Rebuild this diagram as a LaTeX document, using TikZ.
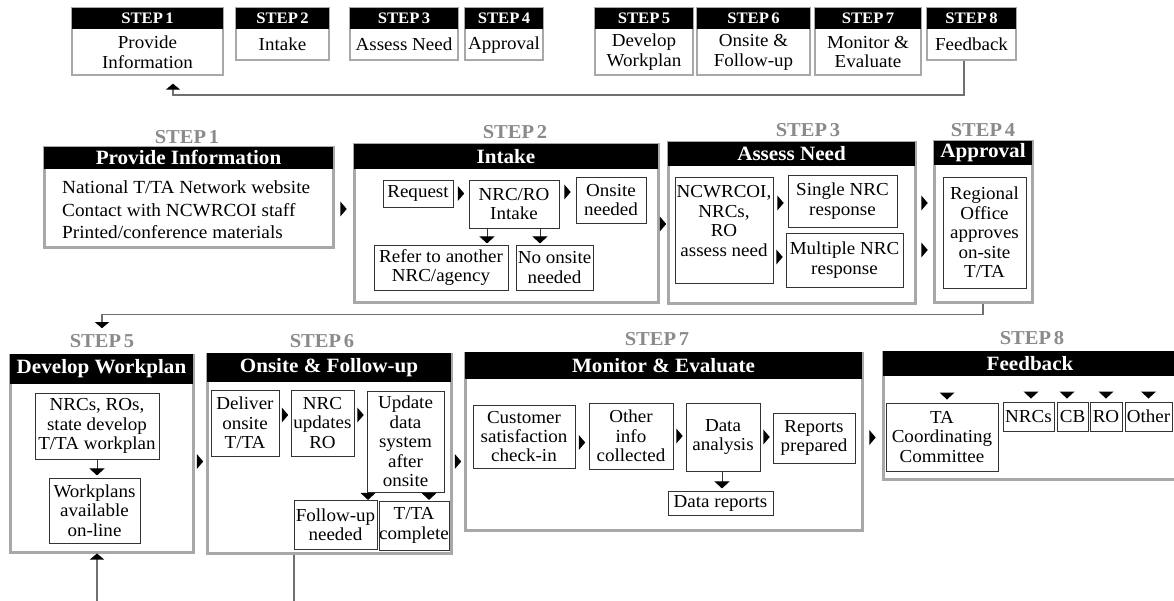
\documentclass[tikz,border=0pt]{standalone}
\usepackage{fontspec}
\setmainfont{Liberation Serif}[FakeStretch=1.04]
\usetikzlibrary{arrows.meta,calc}
\definecolor{bordergray}{HTML}{A8A8A8}
\definecolor{labelgray}{HTML}{8A8A8A}
\definecolor{linegray}{HTML}{707070}
\definecolor{ink}{HTML}{333333}
\newcommand\stp{\hspace{0.15em}}
\begin{document}
\begin{tikzpicture}[x=1pt,y=-1pt,
  bigbox/.style={draw=bordergray,line width=3pt,inner sep=0pt},
  hdr/.style={fill=black,text=white,inner sep=0pt,anchor=north,font=\bfseries\fontsize{20.3}{22}\selectfont},
  lbl/.style={text=labelgray,inner sep=0pt,font=\bfseries\fontsize{19.7}{22}\selectfont},
  ibox/.style={draw=ink,line width=0.9pt,inner sep=0pt,align=center,font=\fontsize{18.3}{19.4}\selectfont},
  tbox/.style={draw=bordergray,line width=1.3pt,inner sep=0pt},
  thdr/.style={fill=black,text=white,inner sep=0pt,anchor=north,font=\bfseries\fontsize{16}{17}\selectfont},
  ttxt/.style={inner sep=0pt,align=center,font=\fontsize{18.3}{19.5}\selectfont},
  conn/.style={draw=linegray,line width=1.1pt},
  uptip/.style={-{Triangle[width=14pt,length=6pt,color=black]}},
  stem/.style={draw=ink,line width=0.9pt,-{Triangle[width=15pt,length=7pt,color=black]}},
  rhead/.pic={\fill[black] (-3.2,-7.5) -- (3.2,0) -- (-3.2,7.5) -- cycle;},
  dhead/.pic={\fill[black] (-7.5,-3.5) -- (7.5,-3.5) -- (0,3.5) -- cycle;}
]
\useasboundingbox (0,0) rectangle (1174,601);

% ---------------- top row ----------------
\node[tbox,minimum width=151pt,minimum height=67pt] (T1) at (147.5,41.5) {};
\node[thdr,minimum width=151pt,minimum height=21pt] (T1h) at (T1.north) {STEP\stp1};
\node[ttxt] (T1t) at ($(T1h.south)!.5!(T1.south)$) {Provide\\Information};

\node[tbox,minimum width=93pt,minimum height=52pt] (T2) at (282.5,34) {};
\node[thdr,minimum width=93pt,minimum height=21pt] (T2h) at (T2.north) {STEP\stp2};
\node[ttxt] (T2t) at ($(T2h.south)!.5!(T2.south)$) {Intake};

\node[tbox,minimum width=108pt,minimum height=52pt] (T3) at (404,34) {};
\node[thdr,minimum width=108pt,minimum height=21pt] (T3h) at (T3.north) {STEP\stp3};
\node[ttxt] (T3t) at ($(T3h.south)!.5!(T3.south)$) {Assess Need};

\node[tbox,minimum width=78pt,minimum height=52pt] (T4) at (504,34) {};
\node[thdr,minimum width=78pt,minimum height=21pt] (T4h) at (T4.north) {STEP\stp4};
\node[ttxt] (T4t) at ($(T4h.south)!.5!(T4.south)$) {Approval};

\node[tbox,minimum width=98pt,minimum height=67pt] (T5) at (644,41.5) {};
\node[thdr,minimum width=98pt,minimum height=21pt] (T5h) at (T5.north) {STEP\stp5};
\node[ttxt] (T5t) at ($(T5h.south)!.5!(T5.south)$) {Develop\\Workplan};

\node[tbox,minimum width=113pt,minimum height=67pt] (T6) at (753.5,41.5) {};
\node[thdr,minimum width=113pt,minimum height=21pt] (T6h) at (T6.north) {STEP\stp6};
\node[ttxt] (T6t) at ($(T6h.south)!.5!(T6.south)$) {Onsite \&\\Follow-up};

\node[tbox,minimum width=106pt,minimum height=67pt] (T7) at (868,41.5) {};
\node[thdr,minimum width=106pt,minimum height=21pt] (T7h) at (T7.north) {STEP\stp7};
\node[ttxt] (T7t) at ($(T7h.south)!.5!(T7.south)$) {Monitor \&\\Evaluate};

\node[tbox,minimum width=89pt,minimum height=52pt] (T8) at (971.5,34) {};
\node[thdr,minimum width=89pt,minimum height=21pt] (T8h) at (T8.north) {STEP\stp8};
\node[ttxt] (T8t) at ($(T8h.south)!.5!(T8.south)$) {Feedback};

\coordinate (FR) at (964,95);
\coordinate (FL) at (173,95);
\draw[conn,uptip,shorten >=8pt] (T8.south -| FR) -- (FR) -- (FL) -- (T1.south -| FL);

% ---------------- step 1 ----------------
\node[lbl] (L1) at (187,137) {STEP\stp1};
\node[bigbox,minimum width=289pt,minimum height=100pt] (S1) at (188.5,198) {};
\node[hdr,minimum width=289pt,minimum height=22pt] (S1h) at (S1.north) {Provide Information};
\node[anchor=west,align=left,inner sep=0pt,font=\fontsize{18.5}{22.5}\selectfont] (S1t) at (62,210)
  {National T/TA Network website\\Contact with NCWRCOI staff\\Printed/conference materials};

% ---------------- step 2 ----------------
\node[lbl] (L2) at (515,132) {STEP\stp2};
\node[bigbox,minimum width=304pt,minimum height=158pt] (S2) at (506,224) {};
\node[hdr,minimum width=304pt,minimum height=25pt] (S2h) at (S2.north) {Intake};
\node[ibox,minimum width=70pt,minimum height=27pt] (Req) at (418,193.5) {Request};
\node[ibox,minimum width=90pt,minimum height=48pt] (NRC) at (514,204) {NRC/RO\\Intake};
\node[ibox,minimum width=70pt,minimum height=46pt] (Ons) at (611,200) {Onsite\\needed};
\node[ibox,minimum width=134pt,minimum height=45pt] (Ref) at (441,267.5) {Refer to another\\NRC/agency};
\node[ibox,minimum width=77pt,minimum height=45pt] (Non) at (554.5,267.5) {No onsite\\needed};

% ---------------- step 3 ----------------
\node[lbl] (L3) at (808,130) {STEP\stp3};
\node[bigbox,minimum width=247pt,minimum height=161pt] (S3) at (791.5,223.5) {};
\node[hdr,minimum width=247pt,minimum height=24pt] (S3h) at (S3.north) {Assess Need};
\node[ibox,minimum width=98pt,minimum height=106pt,text depth=18pt] (NCW) at (724,230) {NCWRCOI,\\NRCs,\\RO\\assess need};
\node[ibox,minimum width=109pt,minimum height=52pt] (Sgl) at (842.5,201) {Single NRC\\response};
\node[ibox,minimum width=117pt,minimum height=54pt] (Mul) at (844.5,260) {Multiple NRC\\response};

% ---------------- step 4 ----------------
\node[lbl] (L4) at (983,130) {STEP\stp4};
\node[bigbox,minimum width=98pt,minimum height=161pt] (S4) at (983,222.5) {};
\node[hdr,minimum width=98pt,minimum height=24pt] (S4h) at (S4.north) {Approval};
\node[ibox,minimum width=83pt,minimum height=111pt] (Reg) at (984.5,232.5) {Regional\\Office\\approves\\on-site\\T/TA};

% ---------------- step 5 ----------------
\node[lbl] (L5) at (102,341) {STEP\stp5};
\node[bigbox,minimum width=183pt,minimum height=197pt] (S5) at (101.5,453.5) {};
\node[hdr,minimum width=183pt,minimum height=30pt] (S5h) at (S5.north) {Develop Workplan};
\node[ibox,minimum width=124pt,minimum height=66pt] (W1) at (97,426) {NRCs, ROs,\\state develop\\T/TA workplan};
\node[ibox,minimum width=91pt,minimum height=65pt] (W2) at (94.5,510.5) {Workplans\\available\\on-line};

% ---------------- step 6 ----------------
\node[lbl] (L6) at (322,341) {STEP\stp6};
\node[bigbox,minimum width=244pt,minimum height=199pt] (S6) at (329,453.5) {};
\node[hdr,minimum width=244pt,minimum height=29pt] (S6h) at (S6.north) {Onsite \& Follow-up};
\node[ibox,minimum width=68pt,minimum height=66pt] (D1) at (245,423) {Deliver\\onsite\\T/TA};
\node[ibox,minimum width=63pt,minimum height=66pt] (D2) at (322.5,423) {NRC\\updates\\RO};
\node[ibox,minimum width=77pt,minimum height=101pt] (D3) at (405.5,441.5) {Update\\data\\system\\after\\onsite};
\node[ibox,minimum width=83pt,minimum height=49pt] (D4) at (335.5,524.5) {Follow-up\\needed};
\node[ibox,minimum width=70pt,minimum height=49pt] (D5) at (414,525.5) {T/TA\\complete};

% ---------------- step 7 ----------------
\node[lbl] (L7) at (657,339) {STEP\stp7};
\node[bigbox,minimum width=397pt,minimum height=177pt] (S7) at (663.5,441.5) {};
\node[hdr,minimum width=397pt,minimum height=27pt] (S7h) at (S7.north) {Monitor \& Evaluate};
\node[ibox,minimum width=102pt,minimum height=63pt] (C1) at (524,436.5) {Customer\\satisfaction\\check-in};
\node[ibox,minimum width=84pt,minimum height=66pt] (C2) at (631,436) {Other\\info\\collected};
\node[ibox,minimum width=74pt,minimum height=68pt] (C3) at (723,437) {Data\\analysis};
\node[ibox,minimum width=82pt,minimum height=50pt] (C4) at (814,438) {Reports\\prepared};
\node[ibox,minimum width=105pt,minimum height=24pt] (C5) at (720.5,503) {Data reports};

% ---------------- step 8 ----------------
\node[lbl] (L8) at (1032,338) {STEP\stp8};
\node[bigbox,minimum width=294pt,minimum height=127pt] (S8) at (1030,415.5) {};
\node[hdr,minimum width=294pt,minimum height=25pt] (S8h) at (S8.north) {Feedback};
\node[ibox,minimum width=112pt,minimum height=68pt] (F1) at (942,437) {TA\\Coordinating\\Committee};
\node[ibox,minimum width=51pt,minimum height=29pt] (F2) at (1028.5,416.5) {NRCs};
\node[ibox,minimum width=31pt,minimum height=29pt] (F3) at (1072.5,416.5) {CB};
\node[ibox,minimum width=32pt,minimum height=29pt] (F4) at (1106,416.5) {RO};
\node[ibox,minimum width=47pt,minimum height=29pt] (F5) at (1148.5,416.5) {Other};

% ---------------- arrowheads between boxes ----------------
\pic at ($(S1.east)!.5!(S1.east -| S2.west)+(0,11)$) {rhead};
\pic at ($(Req.east)!.5!(Req.east -| NRC.west)$) {rhead};
\pic at ($(NRC.east)!.5!(NRC.east -| Ons.west)+(0,-12)$) {rhead};
\pic at ($(S2.east)!.5!(S2.east -| S3.west)$) {rhead};
\pic at ($(Sgl.west -| NCW.east)!.5!(Sgl.west)+(0,2)$) {rhead};
\pic at ($(Mul.west -| NCW.east)!.5!(Mul.west)+(0,-3)$) {rhead};
\pic at ($(Sgl.east -| S3.east)!.5!(Sgl.east -| S4.west)+(0,2)$) {rhead};
\pic at ($(Mul.east -| S3.east)!.5!(Mul.east -| S4.west)+(0,-10)$) {rhead};
\pic at ($(S5.east)!.5!(S5.east -| S6.west)+(0,8)$) {rhead};
\pic at ($(D1.east)!.5!(D1.east -| D2.west)+(0,-8)$) {rhead};
\pic at ($(D2.east)!.5!(D2.east -| D3.west)+(0,-8)$) {rhead};
\pic at ($(S6.east)!.5!(S6.east -| S7.west)+(0,8)$) {rhead};
\pic at ($(C1.east)!.5!(C1.east -| C2.west)+(0,6)$) {rhead};
\pic at ($(C2.east)!.5!(C2.east -| C3.west)$) {rhead};
\pic at ($(C3.east)!.5!(C3.east -| C4.west)$) {rhead};
\pic at ($(S7.east)!.5!(S7.east -| S8.west)+(0,-4)$) {rhead};

\pic at ($(D3.south)+(-37.5,4)$) {dhead};
\pic at ($(D3.south)+(23.5,4)$) {dhead};
\pic at ($(F1.north)+(5,-6.5)$) {dhead};
\pic at ($(F2.north)+(2.5,-6.5)$) {dhead};
\pic at ($(F3.north)+(-5.5,-6.5)$) {dhead};
\pic at ($(F4.north)+(0,-6.5)$) {dhead};
\pic at ($(F5.north)+(0,-6.5)$) {dhead};

% stems with arrowheads
\draw[stem] ([xshift=-27pt]NRC.south) -- ++(0,15);
\draw[stem] ([xshift=26pt]NRC.south) -- ++(0,15);
\draw[stem] (W1.south) -- ++(0,16);
\draw[stem] ([xshift=-1pt]C3.south) -- ++(0,17);

% long connectors
\draw[conn,uptip,shorten >=6pt] (S4.south) -- ++(0,10) -| (L5.north);
\coordinate (B5) at (97,612);
\draw[conn,uptip] (B5) -- (B5 |- S5.south);
\coordinate (B6) at (294,612);
\draw[conn] (S6.south -| B6) -- (B6);
\end{tikzpicture}
\end{document}
